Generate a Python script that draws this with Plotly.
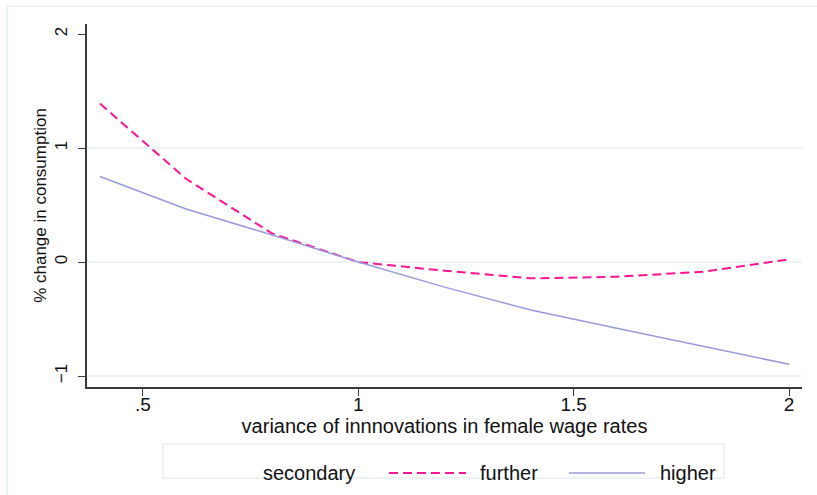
import plotly.graph_objects as go

# Variance of innovations in female wage rates
variance = [0.4, 0.6, 0.8, 1.0, 1.2, 1.4, 1.6, 1.8, 2.0]

# % change in consumption by education group
further = [1.39, 0.73, 0.25, 0.0, -0.076, -0.143, -0.129, -0.085, 0.024]
higher = [0.75, 0.465, 0.237, 0.0, -0.22, -0.42, -0.58, -0.74, -0.897]

x_ticks = [0.5, 1.0, 1.5, 2.0]
x_tick_labels = [".5", "1", "1.5", "2"]
y_ticks = [-1, 0, 1, 2]
y_tick_labels = ["\u22121", "0", "1", "2"]
grid_levels = [-1, 0, 1]

PINK = "#FF1493"
LAVENDER = "#9A9ADF"
GRID = "#E6EFF1"
AXIS = "#3A3A3A"
FONT = "Liberation Sans, Arial, sans-serif"

W, H = 817, 495
L, R, T, B = 87, 802, 24, 387


def px_x(p):
    return (p - L) / (R - L)


def px_y(p):
    return (B - p) / (B - T)


fig = go.Figure()
fig.add_trace(go.Scatter(x=variance, y=further, mode="lines", name="further",
                         line=dict(color=PINK, width=2, dash="9px,5px")))
fig.add_trace(go.Scatter(x=variance, y=higher, mode="lines", name="higher",
                         line=dict(color=LAVENDER, width=1.5)))

shapes = []
# outer graph frame
shapes.append(dict(type="rect", xref="paper", yref="paper",
                   x0=px_x(7), x1=px_x(830), y0=px_y(6), y1=px_y(520),
                   line=dict(color=GRID, width=1.5), layer="below"))
# horizontal grid lines
for g in grid_levels:
    shapes.append(dict(type="line", xref="paper", yref="y", x0=0, x1=1, y0=g, y1=g,
                       line=dict(color=GRID, width=1.5), layer="below"))
# legend box
shapes.append(dict(type="rect", xref="paper", yref="paper",
                   x0=px_x(163), x1=px_x(724), y0=px_y(478), y1=px_y(444),
                   line=dict(color=GRID, width=1.5), fillcolor="white", layer="below"))
# legend keys
shapes.append(dict(type="line", xref="paper", yref="paper",
                   x0=px_x(389), x1=px_x(466), y0=px_y(473), y1=px_y(473),
                   line=dict(color=PINK, width=2, dash="9px,5px")))
shapes.append(dict(type="line", xref="paper", yref="paper",
                   x0=px_x(569), x1=px_x(645), y0=px_y(473), y1=px_y(473),
                   line=dict(color=LAVENDER, width=1.5)))

annotations = []
for label, xl in [("secondary", 261), ("further", 478), ("higher", 658)]:
    annotations.append(dict(text=label, xref="paper", yref="paper",
                            x=px_x(xl), y=px_y(473), xanchor="left", yanchor="middle",
                            showarrow=False, font=dict(family=FONT, size=20, color="#111")))

fig.update_layout(
    width=W, height=H,
    margin=dict(l=L, r=W - R, t=T, b=H - B),
    paper_bgcolor="white", plot_bgcolor="white",
    showlegend=False,
    font=dict(family=FONT, size=17, color="#111"),
    shapes=shapes, annotations=annotations,
)
fig.update_xaxes(
    range=[0.37, 2.03], tickvals=x_ticks, ticktext=x_tick_labels,
    showgrid=False, zeroline=False, showline=True, linecolor=AXIS, linewidth=1.5,
    ticks="outside", ticklen=7, tickcolor=AXIS, tickwidth=1.2,
    tickfont=dict(size=19), ticklabelstandoff=-8,
    title=dict(text="variance of innnovations in female wage rates",
               font=dict(size=20), standoff=0),
)
fig.update_yaxes(
    range=[-1.096, 2.088], tickvals=y_ticks, ticktext=y_tick_labels, tickangle=-90,
    showgrid=False, zeroline=False, showline=True, linecolor=AXIS, linewidth=1.5,
    ticks="outside", ticklen=7, tickcolor=AXIS, tickwidth=1.2,
    tickfont=dict(size=17), ticklabelstandoff=4,
    title=dict(text="% change in consumption", font=dict(size=17), standoff=2),
)

fig.write_html("out.html")
